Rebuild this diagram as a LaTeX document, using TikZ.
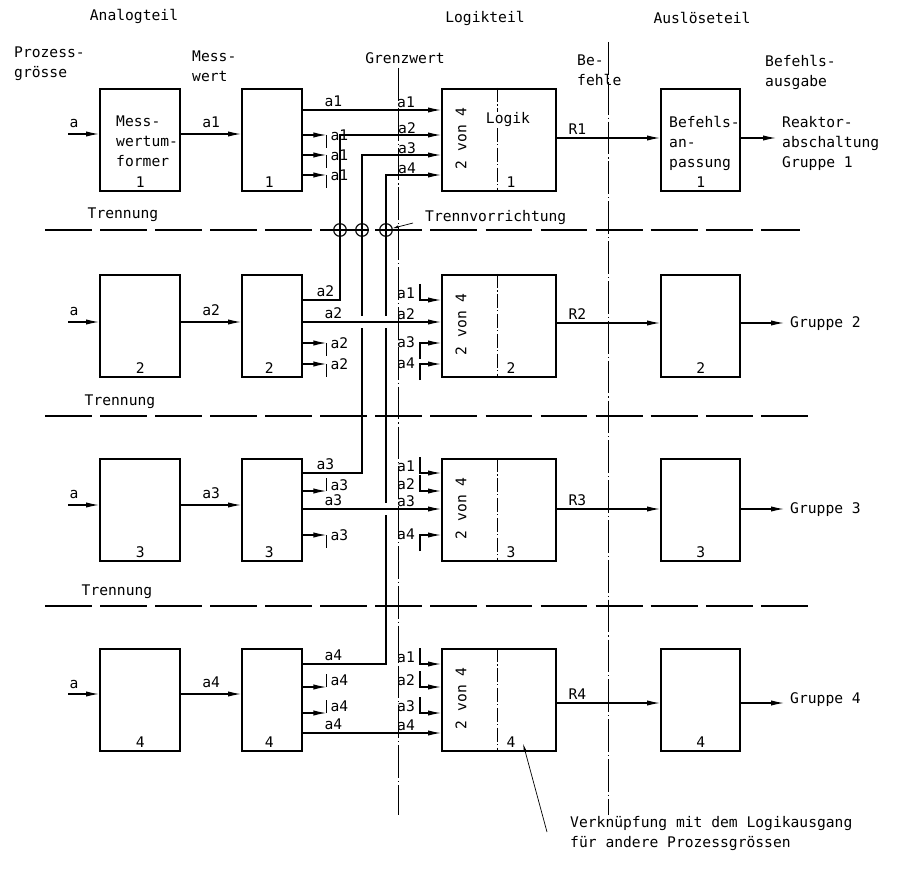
\documentclass[tikz,border=0pt]{standalone}
\usepackage{fontspec}
\setmainfont{DejaVu Sans Mono}
\usepackage{tikz}
\usetikzlibrary{arrows.meta,positioning,calc}

\begin{document}
\begin{tikzpicture}[x=0.03cm,y=-0.03cm,
  every node/.style={font=\fontsize{12.5}{17}\selectfont},
  blk/.style={draw,line width=2pt,anchor=north west,inner sep=0pt,minimum height=3.06cm},
  arr/.style={line width=1pt,-{Latex[length=11pt,width=4.5pt]}},
  wire/.style={line width=1pt},
  lbl/.style={inner sep=0pt},
  sepline/.style={line width=0.9pt,dash pattern=on 40pt off 7pt},
  refline/.style={line width=0.6pt,dash pattern=on 28pt off 2.5pt on 1pt off 2.5pt},
  divline/.style={line width=0.6pt,dash pattern=on 12pt off 2pt on 1pt off 2pt},
  sepring/.style={draw,circle,line width=1pt,minimum size=0.38cm,inner sep=0pt,
    path picture={\draw[line width=1pt] (path picture bounding box.west) -- (path picture bounding box.east);}},
  crossgap/.style={fill=white}]
  \useasboundingbox (0,0) rectangle (900,879);

  % headings
  \node[lbl] (hA) at (134,16) {Analogteil};
  \node[lbl] (hL) at (485,18) {Logikteil};
  \node[lbl] (hT) at (702,18) {Auslöseteil};
  \node[lbl,align=left,anchor=north west] (hP) at (14,47) {Prozess-\\grösse};
  \node[lbl,align=left,anchor=north west] (hM) at (192,51) {Mess-\\wert};
  \node[lbl] (hG) at (405,58) {Grenzwert};
  \node[lbl,align=left,anchor=north west] (hB) at (577,55) {Be-\\fehle};
  \node[lbl,align=left,anchor=north west] (hO) at (765,55) {Befehls-\\ausgabe};

  % Trennung
  \draw[sepline] (45,230) -- (800,230);
  \draw[sepline] (45,416) -- (808,416);
  \draw[sepline] (45,606) -- (808,606);
  \node[lbl] (tr1) at (123,215) {Trennung};
  \node[lbl] (tr2) at (120,402) {Trennung};
  \node[lbl] (tr3) at (117,592) {Trennung};
  \draw[refline] (398,68) -- (398,815);
  \draw[refline] (608,42) -- (608,815);

  % blocks
  \foreach \r/\t in {1/88,2/274,3/458,4/648}{
    \node[blk,minimum width=2.4cm] (A\r) at (99,\t) {};
    \node[blk,minimum width=1.8cm] (B\r) at (241,\t) {};
    \node[blk,minimum width=3.42cm] (L\r) at (441,\t) {};
    \node[blk,minimum width=2.37cm] (C\r) at (660,\t) {};
    \node[lbl] (nA\r) at ($(A\r.south)+(0,-10)$) {\r};
    \node[lbl] (nB\r) at ($(B\r.south)+(-3,-10)$) {\r};
    \node[lbl] (nL\r) at ($(L\r.south west)+(70,-10)$) {\r};
    \node[lbl] (nC\r) at ($(C\r.south)+(0,-10)$) {\r};
    \draw[divline] ($(L\r.north west)+(56,0)$) -- ($(L\r.south west)+(56,0)$);
    \node[lbl,rotate=90] (v\r) at ($(L\r.west)+(20,-2)$) {2 von 4};
  }
  \node[lbl,align=left,anchor=north west] (tA1) at (116,116) {Mess-\\wertum-\\former};
  \node[lbl,align=left,anchor=north west] (tC1) at (669,116) {Befehls-\\an-\\passung};
  \node[lbl,fill=white,inner sep=1pt] (tL1) at (508,120) {Logik};

  % inputs and analog signals
  \foreach \r/\y in {1/134,2/322,3/505,4/694}{
    \coordinate (in\r) at (68,\y);
    \draw[arr] (in\r) -- (A\r.west |- in\r);
    \node[lbl] (ia\r) at ($(in\r)+(6,-10)$) {a};
    \draw[arr] (A\r.east |- in\r) -- (B\r.west |- in\r) node[lbl,midway,above=5pt] (ab\r) {a\r};
  }

  % separation devices and crossing lines
  \node[sepring] (s1) at (340,230) {};
  \node[sepring] (s2) at (362,230) {};
  \node[sepring] (s3) at (386,230) {};
  \draw[arr] (B2.east |- 0,300) -| (s1.center) |- (L1.west |- 0,135);
  \draw[arr] (B3.east |- 0,473) -| (s2.center) |- (L1.west |- 0,155);
  \draw[arr] (B4.east |- 0,664) -| (s3.center) |- (L1.west |- 0,175);
  \foreach \p in {(362,322),(386,322),(386,509)}
    \fill[crossgap] \p +(-3,-6) rectangle +(3,6);
  \node[lbl] (cb2) at ($(B2.east |- 0,300)+(22,-9)$) {a2};
  \node[lbl] (cb3) at ($(B3.east |- 0,473)+(22,-9)$) {a3};
  \node[lbl] (cb4) at ($(B4.east |- 0,664)+(30,-9)$) {a4};
  \node[lbl] (cl2) at ($(L1.west |- 0,135)+(-34,-7)$) {a2};
  \node[lbl] (cl3) at ($(L1.west |- 0,155)+(-34,-7)$) {a3};
  \node[lbl] (cl4) at ($(L1.west |- 0,175)+(-34,-7)$) {a4};

  % direct lines
  \foreach \r/\y in {1/110,2/322,3/509,4/733}{
    \draw[arr] (B\r.east |- 0,\y) -- (L\r.west |- 0,\y);
    \node[lbl] (mb\r) at ($(B\r.east |- 0,\y)+(30,-9)$) {a\r};
    \node[lbl] (ml\r) at ($(L\r.west |- 0,\y)+(-35,-8)$) {a\r};
  }

  % open outputs
  \foreach \r/\y/\o/\t in {1/135/13/a1,1/155/13/a1,1/175/13/a1,2/343/13/a2,2/364/13/a2,
      3/491/-13/a3,3/535/13/a3,4/687/-13/a4,4/713/-13/a4}{
    \draw[arr] (B\r.east |- 0,\y) -- ++(23,0);
    \draw[wire] ($(B\r.east |- 0,\y)+(23,0)$) -- ++(0,\o);
    \node[lbl] (sb-\r-\y) at ($(B\r.east |- 0,\y)+(36,{\o/4-3})$) {\t};
  }

  % open inputs
  \foreach \r/\y/\o/\t in {2/300/-16/a1,2/343/16/a3,2/364/16/a4,
      3/473/-16/a1,3/491/-16/a2,3/535/16/a4,4/664/-16/a1,4/687/-16/a2,4/713/-16/a3}{
    \draw[arr] ($(L\r.west |- 0,\y)+(-21,\o)$) |- (L\r.west |- 0,\y);
    \node[lbl] (sl-\r-\y) at ($(L\r.west |- 0,\y)+(-35,{\o/5-4})$) {\t};
  }

  % commands
  \node[lbl,align=left,anchor=north west] (g1) at (782,116) {Reaktor-\\abschaltung\\Gruppe 1};
  \node[lbl,anchor=west] (g2) at (790,324) {Gruppe 2};
  \node[lbl,anchor=west] (g3) at (790,510) {Gruppe 3};
  \node[lbl,anchor=west] (g4) at (790,700) {Gruppe 4};
  \foreach \r/\y in {1/138,2/323,3/509,4/703}{
    \draw[arr] (L\r.east |- 0,\y) -- (C\r.west |- 0,\y);
    \node[lbl] (rl\r) at ($(L\r.east |- 0,\y)+(20,-9)$) {R\r};
    \draw[arr] (C\r.east |- 0,\y) -- ($(g\r.west |- 0,\y)+(-6,0)$);
  }

  % notes
  \node[lbl,anchor=west] (tv) at (425,218) {Trennvorrichtung};
  \draw[line width=0.6pt,-{Latex[length=5pt,width=2.5pt]}] ($(tv.west)+(-12,5)$) -- (s3);
  \node[lbl,align=left,anchor=north west] (vk) at (570,816) {Verknüpfung mit dem Logikausgang\\für andere Prozessgrössen};
  \draw[line width=0.6pt,-{Latex[length=7pt,width=2.5pt]}] ($(vk.north west)+(-23,16)$) -- ($(L4.south west)+(82,-9)$);
\end{tikzpicture}
\end{document}
